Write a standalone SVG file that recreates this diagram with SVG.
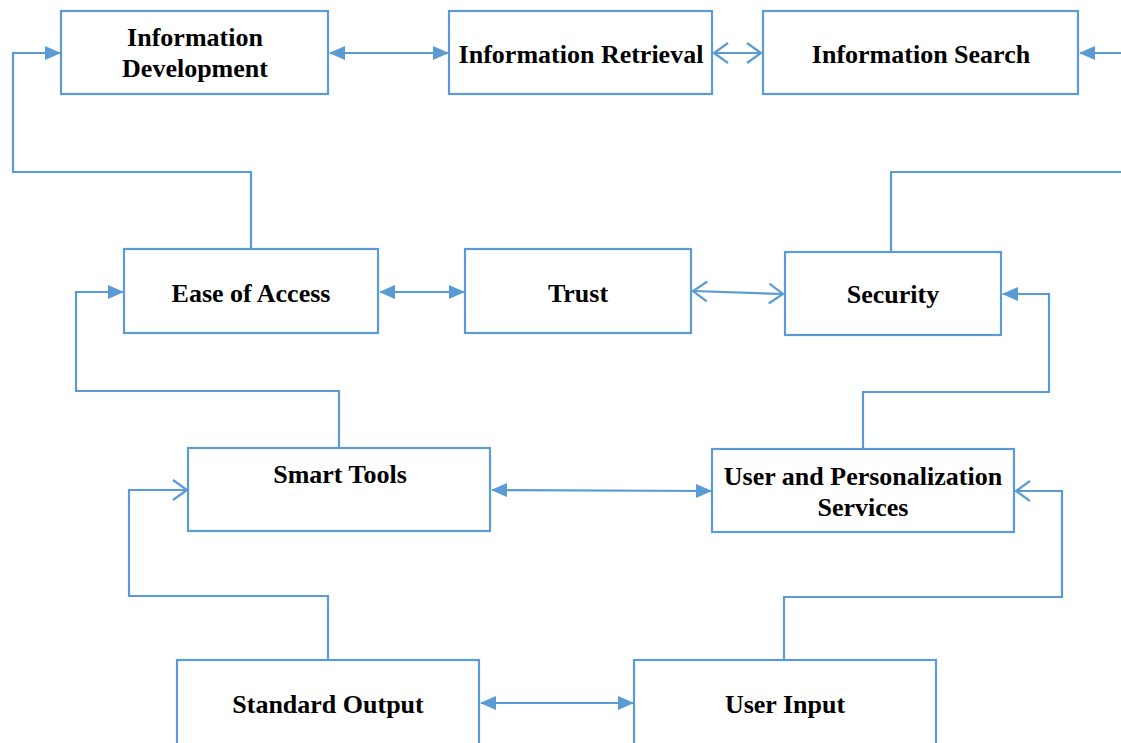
<svg xmlns="http://www.w3.org/2000/svg" width="1121" height="743" viewBox="0 0 1121 743">
<defs>
<style>
.box{fill:#fff;stroke:#5B9BD5;stroke-width:2.2}
.c{fill:none;stroke:#5B9BD5;stroke-width:2.2}
</style>
<marker id="f" markerUnits="userSpaceOnUse" markerWidth="16" markerHeight="14" refX="15" refY="7" orient="auto-start-reverse" viewBox="0 0 16 14">
<path d="M0,0 L16,7 L0,14 Z" fill="#5B9BD5"/>
</marker>
<marker id="o" markerUnits="userSpaceOnUse" markerWidth="18" markerHeight="24" refX="16" refY="12" orient="auto-start-reverse" viewBox="0 0 18 24">
<path d="M2,2 L16,12 L2,22" fill="none" stroke="#5B9BD5" stroke-width="2.2"/>
</marker>
</defs>
<rect width="1121" height="743" fill="#fff"/>
<g id="connectors">
<line class="c" x1="330" y1="53" x2="448" y2="53" marker-start="url(#f)" marker-end="url(#f)"/>
<line class="c" x1="714" y1="53" x2="761" y2="53" marker-start="url(#o)" marker-end="url(#o)"/>
<line class="c" x1="1121" y1="53" x2="1080" y2="53" marker-end="url(#f)"/>
<polyline class="c" points="891,251 891,172 1121,172"/>
<polyline class="c" points="251,249 251,172 13,172 13,53 60,53" marker-end="url(#f)"/>
<line class="c" x1="380" y1="292" x2="464" y2="292" marker-start="url(#f)" marker-end="url(#f)"/>
<line class="c" x1="693" y1="291" x2="783" y2="294" marker-start="url(#o)" marker-end="url(#o)"/>
<polyline class="c" points="339,448 339,391 76,391 76,292 123,292" marker-end="url(#f)"/>
<polyline class="c" points="863,449 863,392 1049,392 1049,294 1003,294" marker-end="url(#f)"/>
<line class="c" x1="492" y1="490" x2="711" y2="491" marker-start="url(#f)" marker-end="url(#f)"/>
<polyline class="c" points="328,660 328,596 129,596 129,490 187,490" marker-end="url(#o)"/>
<polyline class="c" points="784,660 784,597 1062,597 1062,491 1016,491" marker-end="url(#o)"/>
<line class="c" x1="481" y1="703" x2="633" y2="703" marker-start="url(#f)" marker-end="url(#f)"/>
</g>
<g id="n-infodev"><rect class="box" x="61" y="11" width="267" height="83"/><text font-family="Liberation Serif" font-weight="bold" font-size="26" text-anchor="middle" x="195" y="46">Information</text><text font-family="Liberation Serif" font-weight="bold" font-size="26" text-anchor="middle" x="195" y="77">Development</text></g>
<g id="n-inforet"><rect class="box" x="449" y="11" width="263" height="83"/><text font-family="Liberation Serif" font-weight="bold" font-size="26" text-anchor="middle" x="581" y="63">Information Retrieval</text></g>
<g id="n-infosearch"><rect class="box" x="763" y="11" width="315" height="83"/><text font-family="Liberation Serif" font-weight="bold" font-size="26" text-anchor="middle" x="921" y="63">Information Search</text></g>
<g id="n-ease"><rect class="box" x="124" y="249" width="254" height="84"/><text font-family="Liberation Serif" font-weight="bold" font-size="26" text-anchor="middle" x="251" y="302">Ease of Access</text></g>
<g id="n-trust"><rect class="box" x="465" y="249" width="226" height="84"/><text font-family="Liberation Serif" font-weight="bold" font-size="26" text-anchor="middle" x="578" y="302">Trust</text></g>
<g id="n-security"><rect class="box" x="785" y="252" width="216" height="83"/><text font-family="Liberation Serif" font-weight="bold" font-size="26" text-anchor="middle" x="893" y="303">Security</text></g>
<g id="n-smart"><rect class="box" x="188" y="448" width="302" height="83"/><text font-family="Liberation Serif" font-weight="bold" font-size="26" text-anchor="middle" x="340" y="483">Smart Tools</text></g>
<g id="n-ups"><rect class="box" x="712" y="449" width="302" height="83"/><text font-family="Liberation Serif" font-weight="bold" font-size="26" text-anchor="middle" x="863" y="485">User and Personalization</text><text font-family="Liberation Serif" font-weight="bold" font-size="26" text-anchor="middle" x="863" y="516">Services</text></g>
<g id="n-stdout"><rect class="box" x="177" y="660" width="302" height="90"/><text font-family="Liberation Serif" font-weight="bold" font-size="26" text-anchor="middle" x="328" y="713">Standard Output</text></g>
<g id="n-input"><rect class="box" x="634" y="660" width="302" height="90"/><text font-family="Liberation Serif" font-weight="bold" font-size="26" text-anchor="middle" x="785" y="713">User Input</text></g>
</svg>
